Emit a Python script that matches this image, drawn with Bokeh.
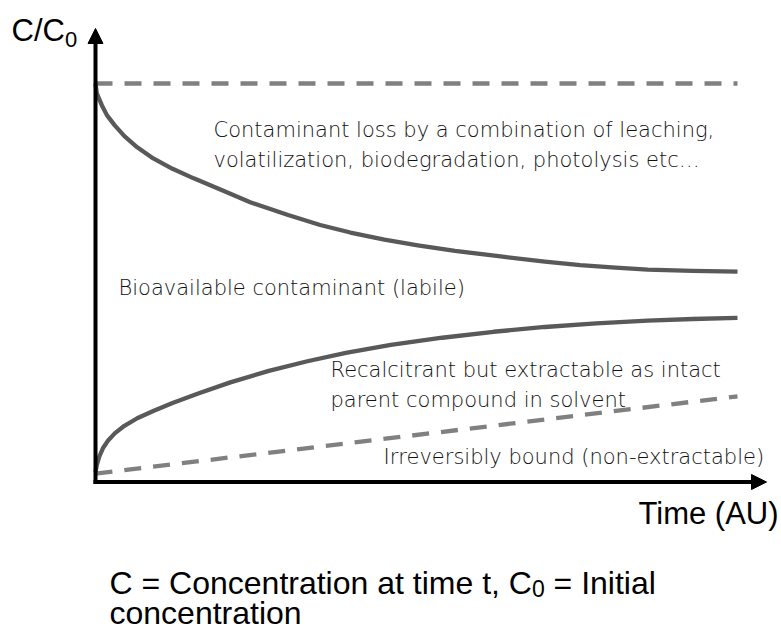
from bokeh.plotting import figure
from bokeh.models import Range1d, Label, Arrow, NormalHead
from bokeh.embed import file_html
from bokeh.resources import INLINE

# ---------------- data (time in AU, concentration as C/C0) ----------------
time_labile = [0.00, 0.02, 0.10, 0.18, 0.30, 0.45, 0.65, 0.90, 1.20, 1.53, 2.00,
               2.41, 3.00, 3.50, 3.97, 4.50, 5.02, 5.60, 6.31, 7.00, 7.55, 8.10,
               8.60, 9.30, 10.0]
c_labile = [1.000, 0.975, 0.945, 0.920, 0.895, 0.868, 0.840, 0.812, 0.786, 0.762,
            0.730, 0.702, 0.670, 0.645, 0.626, 0.608, 0.594, 0.580, 0.566, 0.553,
            0.544, 0.538, 0.533, 0.530, 0.528]

time_recalcitrant = [0.00, 0.02, 0.06, 0.12, 0.20, 0.30, 0.45, 0.65, 0.90, 1.20,
                     1.60, 2.10, 2.70, 3.30, 3.90, 4.60, 5.40, 6.20, 7.00, 7.80,
                     8.60, 9.30, 10.0]
c_recalcitrant = [0.025, 0.042, 0.064, 0.086, 0.105, 0.122, 0.141, 0.160, 0.178,
                  0.198, 0.222, 0.250, 0.279, 0.303, 0.324, 0.344, 0.362, 0.377,
                  0.389, 0.398, 0.405, 0.409, 0.412]

time_bound = [0.0, 10.0]
c_bound = [0.021, 0.215]

time_initial = [0.0, 10.0]
c_initial = [1.0, 1.0]

label_top = ["Contaminant loss by a combination of leaching,",
             "volatilization, biodegradation, photolysis etc\u2026"]
label_labile = "Bioavailable contaminant (labile)"
label_recalc = ["Recalcitrant but extractable as intact",
                "parent compound in solvent"]
label_bound = "Irreversibly bound (non-extractable)"
caption_1 = "C = Concentration at time t, C"
caption_sub = "0"
caption_2 = "= Initial"
caption_3 = "concentration"

# ---------------- layout helpers (picture pixels -> data units) ----------------
W, H = 781, 632
ORIGIN_PX_X = 95.0     # picture x of time 0
ORIGIN_PX_Y = 481.5    # picture y of C/C0 = 0
PX_PER_T = 64.2
PX_PER_C = 398.5


def tx(px):
    return (px - ORIGIN_PX_X) / PX_PER_T


def cy(py):
    return (ORIGIN_PX_Y - py) / PX_PER_C


# Arial / Liberation Sans advance widths (per 1000 em)
AW = {'C': 722, ' ': 278, '=': 584, 'o': 556, 'n': 556, 'c': 500, 'e': 556,
      't': 278, 'r': 333, 'a': 556, 'i': 222, 'm': 833, ',': 278, '0': 556,
      'I': 278, 'l': 222, '/': 278}


def text_w(s, size):
    return sum(AW[ch] for ch in s) / 1000.0 * size


p = figure(width=W, height=H,
           x_range=Range1d(tx(0), tx(W)),
           y_range=Range1d(cy(H), cy(0)),
           output_backend="svg", toolbar_location=None,
           x_axis_location=None, y_axis_location=None,
           min_border=0, outline_line_color=None,
           background_fill_color="white", border_fill_color="white")
p.grid.visible = False

SOLID = "#595959"
DASH = "#808080"

p.line(time_initial, c_initial, line_width=4.3, line_color=DASH, line_dash="17 12")
p.line(time_bound, c_bound, line_width=4.3, line_color=DASH, line_dash="17 12")
p.line(time_labile, c_labile, line_width=4.3, line_color=SOLID, line_join="round")
p.line(time_recalcitrant, c_recalcitrant, line_width=4.3, line_color=SOLID,
       line_join="round")

# axes with arrow heads
p.add_layout(Arrow(x_start=tx(93), y_start=0, x_end=tx(766), y_end=0,
                   line_width=4, line_color="black",
                   end=NormalHead(size=15, fill_color="black", line_color="black",
                                  line_width=1)))
p.add_layout(Arrow(x_start=0, y_start=cy(483.5), x_end=0, y_end=cy(28),
                   line_width=4, line_color="black",
                   end=NormalHead(size=15, fill_color="black", line_color="black",
                                  line_width=1)))


def add_text(px, py, text, font, size, color="black"):
    p.add_layout(Label(x=tx(px), y=cy(py), text=text, text_font=font,
                       text_font_size=f"{size}px", text_color=color,
                       text_baseline="middle", text_align="left"))


LIGHT_FONT = "DejaVu Sans Light, Lato Light, DejaVu Sans"
LIGHT_SIZE = 21
LIGHT_COLOR = "#111111"

add_text(213, 129, label_top[0], LIGHT_FONT, LIGHT_SIZE, LIGHT_COLOR)
add_text(213, 159, label_top[1], LIGHT_FONT, LIGHT_SIZE, LIGHT_COLOR)
add_text(118, 287, label_labile, LIGHT_FONT, LIGHT_SIZE, LIGHT_COLOR)
add_text(330, 369, label_recalc[0], LIGHT_FONT, LIGHT_SIZE, LIGHT_COLOR)
add_text(330, 399, label_recalc[1], LIGHT_FONT, LIGHT_SIZE, LIGHT_COLOR)
add_text(383, 456, label_bound, LIGHT_FONT, LIGHT_SIZE, LIGHT_COLOR)

# axis titles
SANS = "Liberation Sans, Arial, sans-serif"
add_text(11, 30, "C/C", SANS, 31)
add_text(11 + text_w("C/C", 31), 38.5, "0", SANS, 22)
add_text(638, 513, "Time (AU)", SANS, 31)

# caption
CAP = 32
SUB = 23
cx0 = 109
add_text(cx0, 582, caption_1, SANS, CAP)
cx_sub = cx0 + text_w(caption_1, CAP)
add_text(cx_sub, 588, caption_sub, SANS, SUB)
cx_after = cx_sub + text_w(caption_sub, SUB) + text_w(" ", CAP)
add_text(cx_after, 582, caption_2, SANS, CAP)
add_text(cx0, 612, caption_3, SANS, CAP)

open("out.html", "w").write(file_html(p, INLINE))
